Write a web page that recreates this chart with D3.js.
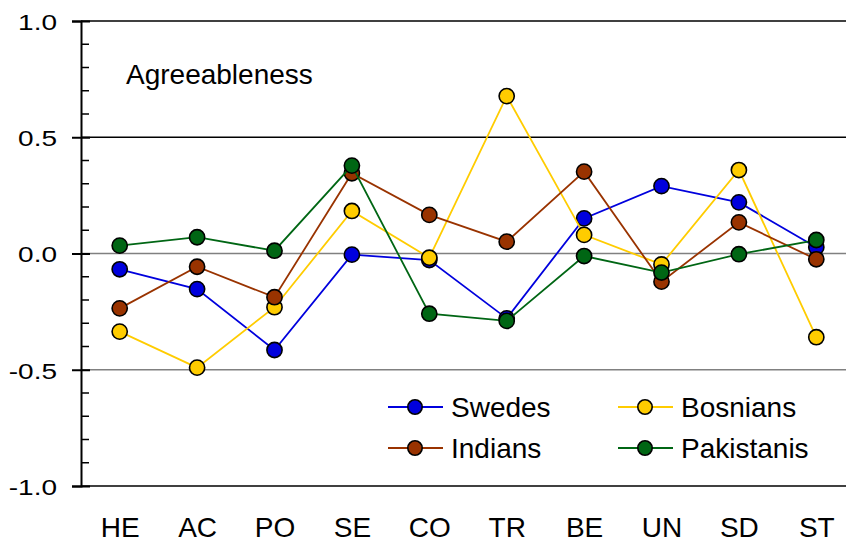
<!DOCTYPE html>
<html><head><meta charset="utf-8">
<script src="https://cdn.jsdelivr.net/npm/d3@7"></script>
<style>body{margin:0;background:#fff}text{font-family:"Liberation Sans",Arial,sans-serif;fill:#000}</style>
</head><body><svg id="c" width="846" height="544"></svg>
<script>
const categories = ["HE","AC","PO","SE","CO","TR","BE","UN","SD","ST"];
const seriesNames = ["Swedes","Bosnians","Indians","Pakistanis"];
const swedes     = [-0.068,-0.153,-0.415,-0.005,-0.028,-0.279, 0.151, 0.290, 0.220, 0.027];
const bosnians   = [-0.336,-0.491,-0.231, 0.183,-0.018, 0.677, 0.080,-0.047, 0.359,-0.360];
const indians    = [-0.236,-0.057,-0.188, 0.345, 0.166, 0.051, 0.352,-0.121, 0.134,-0.025];
const pakistanis = [ 0.034, 0.070, 0.012, 0.378,-0.259,-0.290,-0.011,-0.082,-0.003, 0.058];
const yTicks = [-1.0,-0.5,0.0,0.5,1.0];
const chartTitle = "Agreeableness";
const colors = ["#0000dd","#ffcc00","#993300","#006614"];
const seriesValues = [swedes,bosnians,indians,pakistanis];

const svg = d3.select("#c");
const W = 846;
const x = d3.scalePoint().domain(categories).range([81, 855]).padding(0.5);
const y = d3.scaleLinear().domain([-1,1]).range([486,21]);

// gridlines
const gridColor = v => (v===0 || v===-0.5) ? "#808080" : "#000";
svg.append("g").selectAll("line").data(yTicks.filter(v=>v>-1)).join("line")
  .attr("x1",81).attr("x2",W).attr("y1",d=>y(d)).attr("y2",d=>y(d))
  .attr("stroke",d=>gridColor(d)).attr("stroke-width",1.5);
// bottom axis line
svg.append("line").attr("x1",81).attr("x2",W).attr("y1",y(-1)).attr("y2",y(-1))
  .attr("stroke","#000").attr("stroke-width",1.5);

// minor ticks
const minor = d3.range(-10,11).map(i=>i/10).filter(v=>!yTicks.some(t=>Math.abs(t-v)<1e-9));
svg.append("g").selectAll("line").data(minor).join("line")
  .attr("x1",81).attr("x2",89).attr("y1",d=>y(d)).attr("y2",d=>y(d))
  .attr("stroke","#000").attr("stroke-width",1.5);

// y axis
const yAxis = d3.axisLeft(y).tickValues(yTicks).tickFormat(d=>d.toFixed(1)).tickSize(9).tickPadding(15);
const gy = svg.append("g").attr("transform","translate(81,0)").call(yAxis);
gy.select(".domain").attr("stroke","#000").attr("stroke-width",2);
gy.selectAll(".tick line").attr("stroke","#000").attr("stroke-width",2).attr("x2",9).attr("x1",-9);
gy.selectAll(".tick text").attr("font-size",28).attr("x",-24).attr("dy","0.36em")
  .attr("transform","scale(1,0.82)").style("font-family","Liberation Sans, Arial, sans-serif").attr("fill","#000");

// x axis labels
const xAxis = d3.axisBottom(x).tickSize(0).tickPadding(0);
const gx = svg.append("g").attr("transform","translate(0,486)").call(xAxis);
gx.select(".domain").remove();
gx.selectAll(".tick text").attr("font-size",28).attr("dy",0).attr("y",51)
  .style("font-family","Liberation Sans, Arial, sans-serif").attr("fill","#000");

// title
svg.append("text").attr("x",126).attr("y",84).attr("font-size",28).text(chartTitle);

// series
seriesValues.forEach((vals,i)=>{
  const g = svg.append("g");
  const line = d3.line().x((d,j)=>x(categories[j])).y(d=>y(d));
  g.append("path").datum(vals).attr("d",line).attr("fill","none")
    .attr("stroke",colors[i]).attr("stroke-width",1.8);
  g.selectAll("circle").data(vals).join("circle")
    .attr("cx",(d,j)=>x(categories[j])).attr("cy",d=>y(d)).attr("r",7.6)
    .attr("fill",colors[i]).attr("stroke","#000").attr("stroke-width",1.6);
});

// legend
const legPos = [[388,407],[618,407],[388,448],[618,448]];
seriesNames.forEach((name,i)=>{
  const [lx,ly] = legPos[i];
  const g = svg.append("g").attr("transform",`translate(${lx},${ly})`);
  g.append("line").attr("x1",0).attr("x2",55).attr("y1",0).attr("y2",0)
    .attr("stroke",colors[i]).attr("stroke-width",1.8);
  g.append("circle").attr("cx",27).attr("cy",0).attr("r",7.2)
    .attr("fill",colors[i]).attr("stroke","#000").attr("stroke-width",1.6);
  g.append("text").attr("x",63).attr("y",10).attr("font-size",28).text(name);
});
</script></body></html>
